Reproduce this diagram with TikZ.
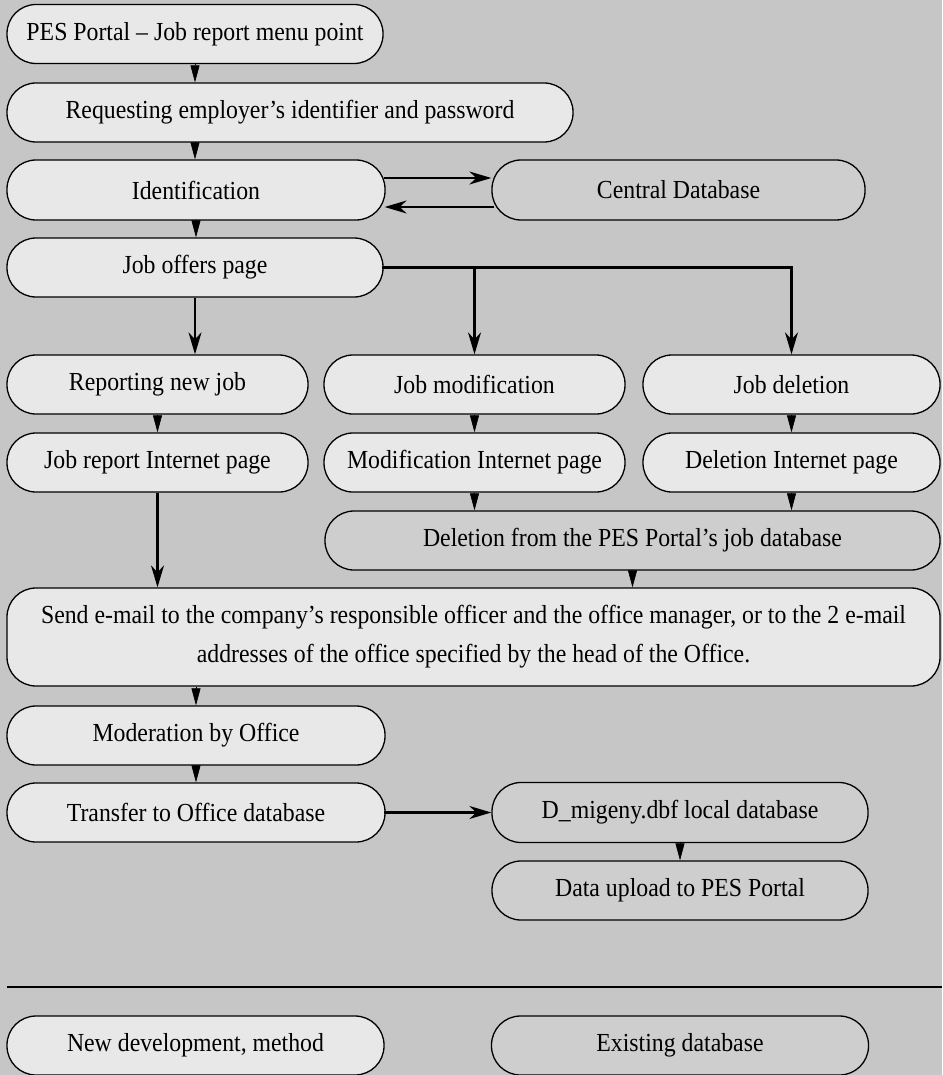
\documentclass[tikz,border=0pt]{standalone}
\usepackage{fontspec}
\setmainfont{Liberation Serif}[FakeStretch=0.915]
\usetikzlibrary{arrows.meta,calc}
\definecolor{bgc}{RGB}{198,198,198}
\definecolor{lightfill}{RGB}{232,232,232}
\definecolor{darkfill}{RGB}{206,206,206}
\begin{document}
\begin{tikzpicture}[x=1pt,y=-1pt,
  box/.style={draw=black, line width=1.3pt, rounded corners=29pt, inner sep=0pt,
    minimum height=59pt, align=center, font=\fontsize{26}{39}\selectfont},
  lbox/.style={box, fill=lightfill},
  dbox/.style={box, fill=darkfill},
  tri/.style={line width=0.6pt, -{Triangle[length=17pt,width=9pt]}},
  conn/.style={line width=2.2pt, -{Stealth[length=22pt,width=13pt,inset=7pt]}},
  plain/.style={line width=2.2pt}]
\fill[bgc] (0,0) rectangle (942,1075);
\useasboundingbox (0,0) rectangle (942,1075);

\node[lbox, minimum width=376pt] (n1) at (195,34) {PES Portal – Job report menu point};
\node[lbox, minimum width=566pt] (n2) at (290,112.5) {Requesting employer’s identifier and password};
\node[lbox, minimum width=378pt, minimum height=60pt] (n3) at (196,190) {Identification};
\node[dbox, minimum width=373pt, minimum height=60pt] (cdb) at (678.5,190) {Central Database};
\node[lbox, minimum width=376pt] (n5) at (195,267.5) {Job offers page};

\node[lbox, minimum width=301pt] (r1a) at (157.5,384.5) {Reporting new job};
\node[lbox, minimum width=301pt] (r1b) at (474.5,384.5) {Job modification};
\node[lbox, minimum width=297pt] (r1c) at (791.5,384.5) {Job deletion};
\node[lbox, minimum width=301pt] (r2a) at (157.5,462.5) {Job report Internet page};
\node[lbox, minimum width=301pt] (r2b) at (474.5,462.5) {Modification Internet page};
\node[lbox, minimum width=297pt] (r2c) at (791.5,462.5) {Deletion Internet page};
\node[dbox, minimum width=615pt] (del) at (632.5,540.5) {Deletion from the PES Portal’s job database};

\node[lbox, minimum width=933pt, minimum height=98pt] (mail) at (473.5,637)
  {Send e-mail to the company’s responsible officer and the office manager, or to the 2 e-mail\\
   addresses of the office specified by the head of the Office.};

\node[lbox, minimum width=378pt] (mod) at (196,735.5) {Moderation by Office};
\node[lbox, minimum width=378pt] (tr) at (196,812.5) {Transfer to Office database};
\node[dbox, minimum width=376pt, minimum height=60pt] (dm) at (680,812.5) {D\_migeny.dbf local database};
\node[dbox, minimum width=376pt] (up) at (680,890.5) {Data upload to PES Portal};

\coordinate (rl) at (7,987);
\coordinate (rr) at (942,987);
\draw[line width=1.2pt] (rl) -- (rr);

\node[lbox, minimum width=377pt] (leg1) at (195.5,1045.5) {New development, method};
\node[dbox, minimum width=377pt] (leg2) at (680,1045.5) {Existing database};

% short connectors
\draw[tri] (n1.south) -- (n1.south |- n2.north);
\draw[tri] (n1.south |- n2.south) -- (n1.south |- n3.north);
\draw[tri] (n3.south) -- (n3.south |- n5.north);
\draw[tri] (r1a.south) -- (r2a.north);
\draw[tri] (r1b.south) -- (r2b.north);
\draw[tri] (r1c.south) -- (r2c.north);
\draw[tri] (r2b.south) -- (r2b.south |- del.north);
\draw[tri] (r2c.south) -- (r2c.south |- del.north);
\draw[tri] (del.south) -- (del.south |- mail.north);
\draw[tri] (mod.north |- mail.south) -- (mod.north);
\draw[tri] (mod.south) -- (tr.north);
\draw[tri] (dm.south) -- (up.north);

% long connectors
\draw[conn] ([yshift=12pt,xshift=-2pt]n3.east) -- ([yshift=12pt]cdb.west);
\draw[conn] ([yshift=-17pt,xshift=3pt]cdb.west) -- ([yshift=-17pt,xshift=-1pt]n3.east);
\draw[conn] (n5.south) -- (n5.south |- r1a.north);
\coordinate (jb) at (r1b.north |- n5.east);
\coordinate (jc) at (r1c.north |- n5.east);
\draw[plain] ([xshift=-2pt]n5.east) -- ([xshift=1.1pt]jc);
\draw[conn] (jb) -- (r1b.north);
\draw[conn] (jc) -- (r1c.north);
\draw[conn] (r2a.south) -- (r2a.south |- mail.north);
\draw[conn] ([xshift=-2pt]tr.east) -- (dm.west);
\end{tikzpicture}
\end{document}
